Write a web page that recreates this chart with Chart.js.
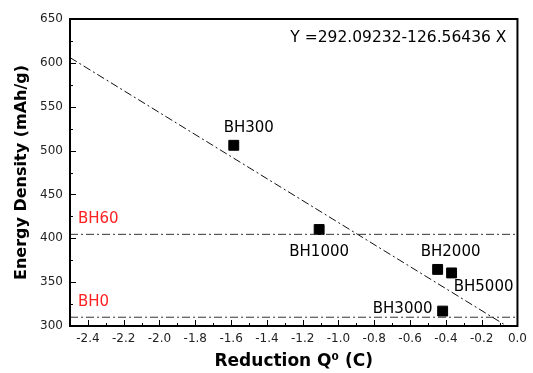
<!DOCTYPE html>
<html>
<head>
<meta charset="utf-8">
<script src="https://cdn.jsdelivr.net/npm/chart.js@4.4.0/dist/chart.umd.min.js"></script>
<style>
  html, body { margin: 0; padding: 0; background: #fff; }
</style>
</head>
<body>
<canvas id="energyChart" width="533" height="373"></canvas>
<script>
// samples
const sampleNames = ['BH300', 'BH1000', 'BH2000', 'BH5000', 'BH3000'];
const reductionQ = [-1.585, -1.108, -0.446, -0.368, -0.418];
const energyDensity = [506, 410, 364.5, 360.5, 317];

// reference levels
const refNames = ['BH60', 'BH0'];
const refEnergy = [404.5, 310];

// linear fit, end points as drawn
const fitX = [-2.5, -0.06];
const fitY = [606, 300];
const fitLabel = 'Y =292.09232-126.56436 X';

const xTickValues = [-2.4, -2.2, -2.0, -1.8, -1.6, -1.4, -1.2, -1.0, -0.8, -0.6, -0.4, -0.2, 0.0];
const yTickValues = [300, 350, 400, 450, 500, 550, 600, 650];

// label offsets in px from each point (style only)
const sampleLabelOffsets = [[15, -17], [0, 23], [13, -17], [32, 14], [-40, -2]];

const FONT = 'DejaVu Sans';
const DASH_DOT = [8, 3, 2, 3];

function midpoints(arr) {
    const out = [];
    for (let i = 0; i < arr.length - 1; i++) out.push((arr[i] + arr[i + 1]) / 2);
    return out;
}

const frameAndLabels = {
    id: 'frameAndLabels',
    afterDraw(chart) {
        const ctx = chart.ctx;
        const a = chart.chartArea;
        const xs = chart.scales.x, ys = chart.scales.y;
        ctx.save();

        // inward ticks
        ctx.strokeStyle = '#000';
        ctx.lineWidth = 1;
        ctx.beginPath();
        xTickValues.forEach(v => {
            const px = Math.round(xs.getPixelForValue(v)) + 0.5;
            ctx.moveTo(px, a.bottom); ctx.lineTo(px, a.bottom - 6);
        });
        midpoints(xTickValues).forEach(v => {
            const px = Math.round(xs.getPixelForValue(v)) + 0.5;
            ctx.moveTo(px, a.bottom); ctx.lineTo(px, a.bottom - 3);
        });
        yTickValues.forEach(v => {
            const py = Math.round(ys.getPixelForValue(v)) + 0.5;
            ctx.moveTo(a.left, py); ctx.lineTo(a.left + 6, py);
        });
        midpoints(yTickValues).forEach(v => {
            const py = Math.round(ys.getPixelForValue(v)) + 0.5;
            ctx.moveTo(a.left, py); ctx.lineTo(a.left + 3, py);
        });
        ctx.stroke();

        // frame
        ctx.lineWidth = 2;
        ctx.strokeRect(a.left, a.top, a.right - a.left, a.bottom - a.top);

        // sample labels
        ctx.font = '15px "' + FONT + '"';
        ctx.fillStyle = '#000';
        ctx.textAlign = 'center';
        ctx.textBaseline = 'middle';
        sampleNames.forEach((name, i) => {
            const px = xs.getPixelForValue(reductionQ[i]);
            const py = ys.getPixelForValue(energyDensity[i]);
            ctx.fillText(name, px + sampleLabelOffsets[i][0], py + sampleLabelOffsets[i][1]);
        });

        // reference labels
        ctx.fillStyle = '#ff2020';
        ctx.textAlign = 'left';
        refNames.forEach((name, i) => {
            const py = ys.getPixelForValue(refEnergy[i]);
            ctx.fillText(name, a.left + 8, py - 15);
        });

        // fit equation
        ctx.font = '15.5px "' + FONT + '"';
        ctx.fillStyle = '#000';
        ctx.textAlign = 'right';
        ctx.fillText(fitLabel, a.right - 11, a.top + 19);
        ctx.restore();
    }
};

const ctx = document.getElementById('energyChart').getContext('2d');

const refDatasets = refEnergy.map((v, i) => ({
    label: refNames[i],
    type: 'line',
    data: [{x: -2.5, y: v}, {x: 0, y: v}],
    borderColor: '#333',
    borderWidth: 1,
    borderDash: DASH_DOT,
    pointRadius: 0,
    fill: false
}));

new Chart(ctx, {
    type: 'scatter',
    data: {
        datasets: [
            {
                label: 'Fit',
                type: 'line',
                data: fitX.map((x, i) => ({x: x, y: fitY[i]})),
                borderColor: '#111',
                borderWidth: 1,
                borderDash: DASH_DOT,
                pointRadius: 0,
                fill: false
            },
            ...refDatasets,
            {
                label: 'Samples',
                data: reductionQ.map((x, i) => ({x: x, y: energyDensity[i]})),
                pointStyle: 'rect',
                pointRadius: 7,
                backgroundColor: '#000',
                borderColor: '#000',
                borderWidth: 1
            }
        ]
    },
    options: {
        responsive: false,
        animation: false,
        layout: {
            padding: { top: 19, right: 12, bottom: 0, left: 0 }
        },
        plugins: {
            legend: { display: false },
            tooltip: { enabled: false }
        },
        scales: {
            x: {
                type: 'linear',
                min: -2.5,
                max: 0,
                afterBuildTicks: scale => { scale.ticks = xTickValues.map(v => ({value: v})); },
                afterFit: scale => { scale.height = 47; },
                grid: { display: false, drawTicks: false },
                border: { display: false },
                ticks: {
                    autoSkip: false,
                    maxRotation: 0,
                    padding: 6,
                    color: '#222',
                    font: { family: FONT, size: 12 },
                    callback: v => v.toFixed(1)
                },
                title: {
                    display: true,
                    text: 'Reduction Q\u2070 (C)',
                    color: '#000',
                    font: { family: FONT, size: 17, weight: 'bold' },
                    padding: { top: 0, bottom: 1 }
                }
            },
            y: {
                type: 'linear',
                min: 300,
                max: 650,
                afterBuildTicks: scale => { scale.ticks = yTickValues.map(v => ({value: v})); },
                afterFit: scale => { scale.width = 70; },
                grid: { display: false, drawTicks: false },
                border: { display: false },
                ticks: {
                    padding: 7,
                    color: '#222',
                    font: { family: FONT, size: 12 }
                },
                title: {
                    display: true,
                    text: 'Energy Density (mAh/g)',
                    color: '#000',
                    font: { family: FONT, size: 16, weight: 'bold' },
                    padding: { top: 12, bottom: 0 }
                }
            }
        }
    },
    plugins: [frameAndLabels]
});
</script>
</body>
</html>
